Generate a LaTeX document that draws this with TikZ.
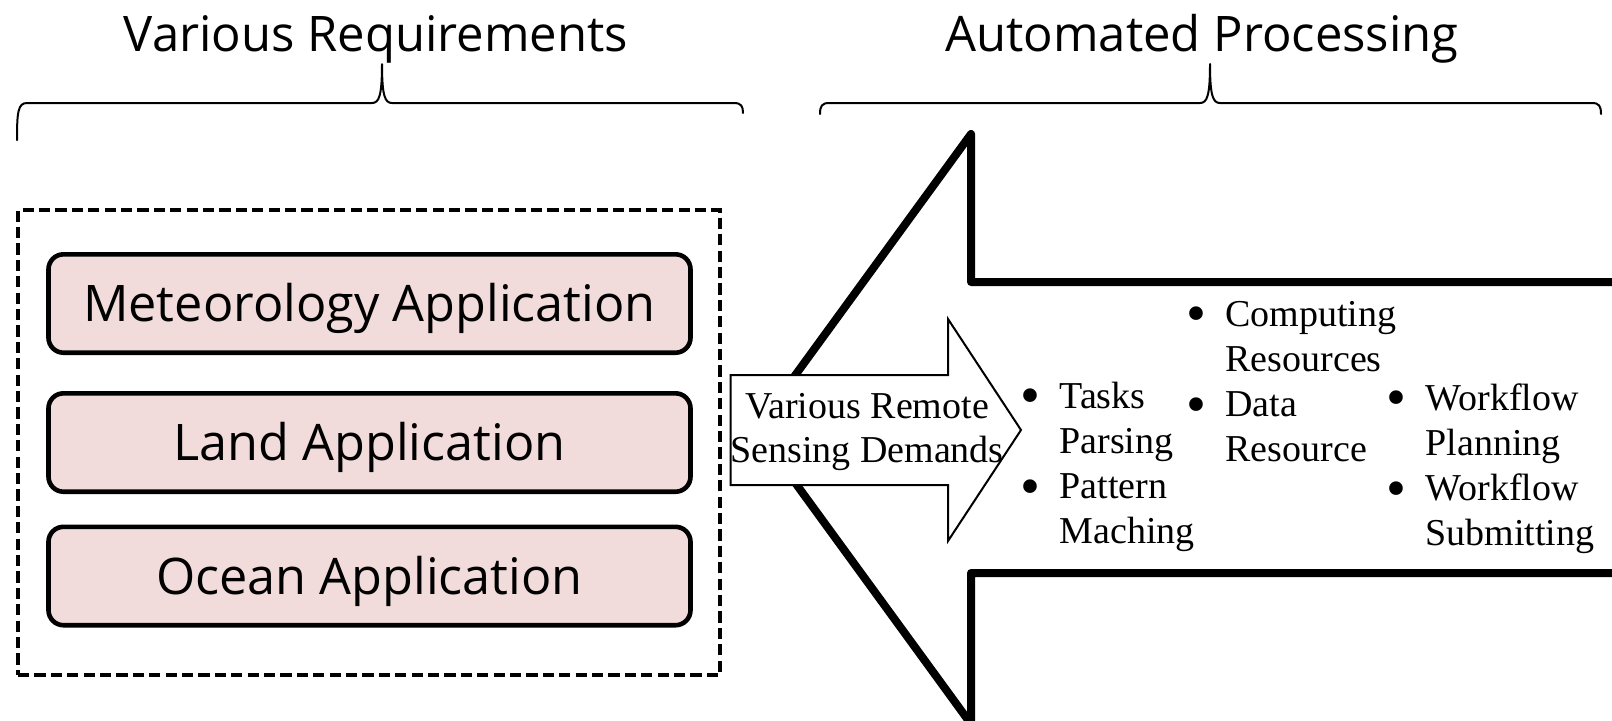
\documentclass[tikz,border=0pt]{standalone}
\usepackage{fontspec}
\setmainfont{Liberation Serif}
\newfontfamily\labelsans{Open Sans}
\definecolor{appfill}{HTML}{F2DCDB}
% enlarged list bullet that keeps the normal bullet width
\newcommand{\stepdot}{\makebox[6.6pt][c]{\raisebox{-3.4pt}{\scalebox{1.5}{\textbullet}}}}
\begin{document}
\begin{tikzpicture}[x=0.5pt,y=-0.5pt,
  heading/.style={font=\labelsans\fontsize{24.5}{29}\selectfont, anchor=base, inner sep=0pt},
  brace/.style={line width=1pt, line cap=round, line join=round},
  reqframe/.style={draw, dash pattern=on 5.6pt off 2.6pt, line width=2pt,
    minimum width=351pt, minimum height=232.5pt, inner sep=0pt},
  appbox/.style={draw, line width=2.3pt, rounded corners=7.5pt, fill=appfill,
    minimum width=321pt, minimum height=49.2pt, inner sep=0pt,
    font=\labelsans\fontsize{25.2}{30}\selectfont, text height=18pt, text depth=0pt},
  bigarrow/.style={line width=4pt, line join=round},
  smallarrow/.style={draw, fill=white, line width=1pt, line join=miter},
  serif/.style={font=\fontsize{19}{22.6}\selectfont, inner sep=0pt},
]
\useasboundingbox (0,0) rectangle (1612,720);
\clip (0,0) rectangle (1612,720);

% group headings
\node[heading] (reqtitle) at (376,51) {Various Requirements};
\node[heading] (proctitle) at (1202,51) {Automated Processing};

% curly braces under the headings
\draw[brace] (17,140) .. controls (17,112) and (18,103) .. (27,103) -- (372,103)
  .. controls (379,103) and (382,96) .. (382,64)
  .. controls (382,96) and (385,103) .. (392,103) -- (734,103)
  .. controls (741,103) and (743,106) .. (743,113);
\draw[brace] (820,114) .. controls (820,106) and (822,103) .. (829,103) -- (1200,103)
  .. controls (1207,103) and (1210,96) .. (1210,64)
  .. controls (1210,96) and (1213,103) .. (1220,103) -- (1592,103)
  .. controls (1599,103) and (1601,106) .. (1601,114);

% requirement group
\node[reqframe] (req) at (369,442.5) {};
\node[appbox] (met) at (369.5,303.5) {Meteorology Application};
\node[appbox] (land) at (369.5,442.5) {Land Application};
\node[appbox] (ocean) at (369.5,576) {Ocean Application};

% large processing arrow pointing left
\draw[bigarrow] (1640,282) -- (971,282) -- (971,134) -- (756,429) -- (971,724)
  -- (971,573) -- (1640,573);

% demand arrow pointing right
\draw[smallarrow] (730.5,375) -- (948,375) -- (948,319) -- (1021,430) -- (948,541)
  -- (948,485) -- (730.5,485) -- cycle;
\node[serif, anchor=base, font=\fontsize{19}{22}\selectfont] (demand) at (867,418)
  {\begin{tabular}[t]{@{}c@{}}Various Remote\\Sensing Demands\end{tabular}};

% processing steps
\node[serif, anchor=base west] (parse) at (1023.5,408)
  {\begin{tabular}[t]{@{}l@{\hspace{11.2pt}}l@{}}\stepdot & Tasks\\ & Parsing\\ \stepdot & Pattern\\ & Maching\end{tabular}};
\node[serif, anchor=base west] (resource) at (1189.5,326)
  {\begin{tabular}[t]{@{}l@{\hspace{11.2pt}}l@{}}\stepdot & Computing\\ & Resources\\ \stepdot & Data\\ & Resource\end{tabular}};
\node[serif, anchor=base west] (workflow) at (1389.5,410)
  {\begin{tabular}[t]{@{}l@{\hspace{11.2pt}}l@{}}\stepdot & Workflow\\ & Planning\\ \stepdot & Workflow\\ & Submitting\end{tabular}};
\end{tikzpicture}
\end{document}
